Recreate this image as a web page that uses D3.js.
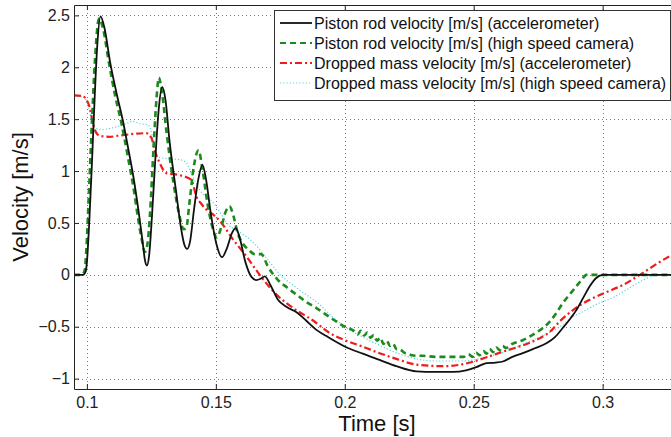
<!DOCTYPE html>
<html><head><meta charset="utf-8">
<script src="https://cdn.jsdelivr.net/npm/d3@7"></script>
<style>body{margin:0;background:#fff}svg{display:block}text{font-family:"Liberation Sans",Arial,sans-serif}</style>
</head><body>
<script>
// ---- data ----
const xTicks = [0.1, 0.15, 0.2, 0.25, 0.3];
const xTickLabels = ["0.1", "0.15", "0.2", "0.25", "0.3"];
const yTicks = [-1, -0.5, 0, 0.5, 1, 1.5, 2, 2.5];
const yTickLabels = ["\u22121", "\u22120.5", "0", "0.5", "1", "1.5", "2", "2.5"];
const seriesNames = [
  "Piston rod velocity [m/s] (accelerometer)",
  "Piston rod velocity [m/s] (high speed camera)",
  "Dropped mass velocity [m/s] (accelerometer)",
  "Dropped mass velocity [m/s] (high speed camera)"
];
const pistonAcc = [[0.095,0],[0.0985,0],[0.0995,0.03],[0.1,0.12],[0.101,0.55],[0.102,1.1],[0.103,1.7],[0.104,2.2],[0.1053,2.49],[0.1068,2.38],[0.109,2.05],[0.1115,1.75],[0.114,1.48],[0.116,1.22],[0.118,0.95],[0.12,0.62],[0.1215,0.34],[0.1226,0.13],[0.1233,0.09],[0.1241,0.18],[0.1252,0.55],[0.1265,1.1],[0.1278,1.58],[0.1292,1.81],[0.1305,1.68],[0.132,1.3],[0.1345,0.82],[0.1365,0.45],[0.1378,0.29],[0.1389,0.25],[0.14,0.32],[0.1415,0.62],[0.1432,0.92],[0.1448,1.06],[0.1462,0.92],[0.148,0.6],[0.1502,0.3],[0.1524,0.17],[0.1545,0.27],[0.1562,0.4],[0.1577,0.45],[0.159,0.38],[0.1615,0.12],[0.1638,-0.02],[0.1657,-0.05],[0.1672,-0.04],[0.169,-0.015],[0.1712,-0.1],[0.1741,-0.24],[0.1775,-0.31],[0.1813,-0.36],[0.185,-0.44],[0.189,-0.53],[0.1929,-0.59],[0.2,-0.69],[0.207,-0.76],[0.2135,-0.82],[0.22,-0.88],[0.2278,-0.93],[0.235,-0.935],[0.242,-0.935],[0.247,-0.92],[0.251,-0.89],[0.255,-0.85],[0.2585,-0.845],[0.2613,-0.835],[0.265,-0.79],[0.269,-0.755],[0.2735,-0.71],[0.2782,-0.66],[0.2815,-0.6],[0.2846,-0.51],[0.2875,-0.42],[0.2898,-0.34],[0.2925,-0.22],[0.295,-0.11],[0.2975,-0.03],[0.3002,0],[0.33,0]];
const pistonCam = [[0.095,0],[0.0982,0],[0.0992,0.05],[0.0998,0.25],[0.1008,0.8],[0.102,1.5],[0.1032,2.1],[0.1047,2.47],[0.1062,2.38],[0.1085,2.05],[0.111,1.72],[0.1135,1.45],[0.1158,1.15],[0.118,0.85],[0.1198,0.55],[0.1212,0.35],[0.1225,0.22],[0.1235,0.3],[0.1245,0.6],[0.1258,1.2],[0.127,1.7],[0.1279,1.9],[0.129,1.78],[0.131,1.35],[0.1335,0.9],[0.1358,0.58],[0.1375,0.44],[0.1385,0.45],[0.1398,0.7],[0.1415,1.05],[0.1433,1.2],[0.1448,1.02],[0.1468,0.68],[0.1488,0.45],[0.1504,0.36],[0.152,0.45],[0.1537,0.6],[0.1553,0.66],[0.1568,0.57],[0.1585,0.4],[0.1605,0.3],[0.1628,0.24],[0.165,0.2],[0.1676,0.2],[0.1702,0.08],[0.1741,-0.05],[0.1775,-0.12],[0.1812,-0.19],[0.185,-0.26],[0.189,-0.32],[0.1955,-0.43],[0.2,-0.5],[0.2035,-0.54],[0.205,-0.575],[0.2062,-0.54],[0.2075,-0.585],[0.2088,-0.555],[0.21,-0.605],[0.2112,-0.58],[0.2125,-0.635],[0.2138,-0.605],[0.215,-0.665],[0.2163,-0.635],[0.2175,-0.685],[0.2188,-0.665],[0.22,-0.715],[0.2215,-0.72],[0.223,-0.75],[0.2245,-0.76],[0.226,-0.775],[0.2278,-0.78],[0.23,-0.78],[0.235,-0.79],[0.24,-0.79],[0.2462,-0.79],[0.248,-0.765],[0.2495,-0.79],[0.251,-0.75],[0.2522,-0.775],[0.2538,-0.735],[0.255,-0.76],[0.2562,-0.715],[0.2575,-0.745],[0.2588,-0.7],[0.26,-0.725],[0.2613,-0.685],[0.2625,-0.705],[0.265,-0.665],[0.269,-0.63],[0.274,-0.56],[0.277,-0.51],[0.2795,-0.45],[0.282,-0.37],[0.2846,-0.27],[0.2872,-0.19],[0.2898,-0.11],[0.2918,-0.05],[0.2937,0],[0.33,0]];
const massAcc = [[0.095,1.73],[0.0985,1.72],[0.1,1.68],[0.101,1.62],[0.1024,1.46],[0.1036,1.37],[0.105,1.34],[0.1088,1.33],[0.112,1.34],[0.1153,1.35],[0.119,1.36],[0.123,1.365],[0.125,1.32],[0.1263,1.2],[0.1282,1.08],[0.1308,0.98],[0.136,0.96],[0.1405,0.915],[0.1424,0.76],[0.1445,0.68],[0.1463,0.63],[0.149,0.58],[0.1515,0.52],[0.1567,0.34],[0.1618,0.18],[0.167,0.0],[0.1735,-0.19],[0.18,-0.32],[0.1877,-0.44],[0.1941,-0.56],[0.2,-0.63],[0.2068,-0.69],[0.2135,-0.755],[0.22,-0.81],[0.2278,-0.865],[0.2381,-0.88],[0.245,-0.865],[0.25,-0.835],[0.2555,-0.79],[0.2613,-0.74],[0.2665,-0.7],[0.2717,-0.655],[0.2757,-0.61],[0.2795,-0.55],[0.2833,-0.45],[0.2885,-0.34],[0.295,-0.24],[0.3002,-0.18],[0.3092,-0.08],[0.3144,0],[0.326,0.18],[0.33,0.23]];
const massCam = [[0.095,1.72],[0.0985,1.72],[0.1,1.66],[0.101,1.58],[0.1022,1.45],[0.1036,1.41],[0.106,1.4],[0.1088,1.41],[0.112,1.43],[0.1155,1.46],[0.1178,1.48],[0.12,1.46],[0.1237,1.445],[0.125,1.38],[0.126,1.22],[0.1269,1.14],[0.1308,1.12],[0.136,1.11],[0.1386,1.08],[0.141,0.95],[0.1437,0.82],[0.1489,0.7],[0.1554,0.47],[0.16,0.4],[0.165,0.3],[0.17,0.15],[0.175,0.0],[0.18,-0.1],[0.1838,-0.17],[0.19,-0.28],[0.195,-0.4],[0.2,-0.5],[0.207,-0.6],[0.2135,-0.68],[0.22,-0.75],[0.2278,-0.81],[0.235,-0.83],[0.2462,-0.83],[0.2535,-0.8],[0.2587,-0.77],[0.265,-0.71],[0.2717,-0.64],[0.2782,-0.57],[0.2846,-0.48],[0.2886,-0.4],[0.2911,-0.37],[0.2988,-0.27],[0.304,-0.22],[0.3092,-0.145],[0.3157,-0.05],[0.3209,0],[0.33,0]];

// ---- layout ----
const W = 671, H = 437;
const L = 74, R = 680, T = 5, B = 389;
const x = d3.scaleLinear().domain([0.095, 0.33]).range([L, R]);
const y = d3.scaleLinear().domain([-1.1, 2.6]).range([B, T]);

const svg = d3.select("body").append("svg").attr("width", W).attr("height", H);
svg.append("rect").attr("width", W).attr("height", H).attr("fill", "#fff");
svg.append("clipPath").attr("id", "clip").append("rect").attr("x", L).attr("y", T).attr("width", R - L).attr("height", B - T);

// grid
const grid = svg.append("g").attr("stroke", "#555").attr("stroke-width", 1).attr("stroke-dasharray", "1,3").attr("opacity", 0.8);
grid.selectAll("line.gx").data(xTicks).join("line").attr("x1", d => Math.round(x(d)) + 0.5).attr("x2", d => Math.round(x(d)) + 0.5).attr("y1", T).attr("y2", B);
grid.selectAll("line.gy").data(yTicks).join("line").attr("y1", d => Math.round(y(d)) + 0.5).attr("y2", d => Math.round(y(d)) + 0.5).attr("x1", L).attr("x2", R);

// series
const styles = [
  {data: pistonAcc, color: "#111", width: 1.8, dash: null},
  {data: pistonCam, color: "#1c8a1c", width: 2.6, dash: "6,4"},
  {data: massAcc, color: "#ee1c1c", width: 2.2, dash: "7,3,2,3"},
  {data: massCam, color: "#5cd2dc", width: 1.2, dash: "1.2,2"}
];
const line = d3.line().x(d => x(d[0])).y(d => y(d[1])).curve(d3.curveMonotoneX);
const lines = svg.append("g").attr("clip-path", "url(#clip)").attr("fill", "none");
[3, 2, 1, 0].forEach(i => {
  const s = styles[i];
  lines.append("path").attr("d", line(s.data)).attr("stroke", s.color).attr("stroke-width", s.width)
    .attr("stroke-dasharray", s.dash).attr("stroke-linejoin", "round");
});

// axes
const axColor = "#222";
const xAxis = d3.axisBottom(x).tickValues(xTicks).tickFormat((d, i) => xTickLabels[i]).tickSizeInner(-5).tickSizeOuter(0).tickPadding(8);
const gx = svg.append("g").attr("transform", `translate(0,${B})`).call(xAxis);
const yAxis = d3.axisLeft(y).tickValues(yTicks).tickFormat((d, i) => yTickLabels[i]).tickSizeInner(-5).tickSizeOuter(0).tickPadding(4);
const gy = svg.append("g").attr("transform", `translate(${L},0)`).call(yAxis);
const xTop = d3.axisTop(x).tickValues(xTicks).tickFormat("").tickSizeInner(-5).tickSizeOuter(0);
const gt = svg.append("g").attr("transform", `translate(0,${T})`).call(xTop);
[gx, gy, gt].forEach(g => {
  g.selectAll(".domain").attr("stroke", axColor).attr("stroke-width", 1);
  g.selectAll(".tick line").attr("stroke", axColor);
  g.selectAll("text").attr("font-size", 16).attr("fill", "#222").attr("font-family", "Liberation Sans, Arial, sans-serif");
});

// axis labels
svg.append("text").attr("x", (L + R) / 2).attr("y", 431).attr("text-anchor", "middle").attr("font-size", 22).attr("fill", "#111").text("Time [s]");
svg.append("text").attr("transform", `translate(28,${(T + B) / 2}) rotate(-90)`).attr("text-anchor", "middle").attr("font-size", 22).attr("fill", "#111").text("Velocity [m/s]");

// legend
const lg = svg.append("g");
lg.append("rect").attr("x", 274.5).attr("y", 10.5).attr("width", 396).attr("height", 90).attr("fill", "#fff").attr("stroke", "#333").attr("stroke-width", 1);
seriesNames.forEach((name, i) => {
  const yy = 23 + i * 20;
  const s = styles[i];
  lg.append("line").attr("x1", 280).attr("x2", 312).attr("y1", yy).attr("y2", yy)
    .attr("stroke", s.color).attr("stroke-width", Math.min(s.width, 2)).attr("stroke-dasharray", s.dash);
  lg.append("text").attr("x", 314).attr("y", yy).attr("dy", "0.35em").attr("font-size", 16).attr("fill", "#111").text(name);
});
</script>
</body></html>
